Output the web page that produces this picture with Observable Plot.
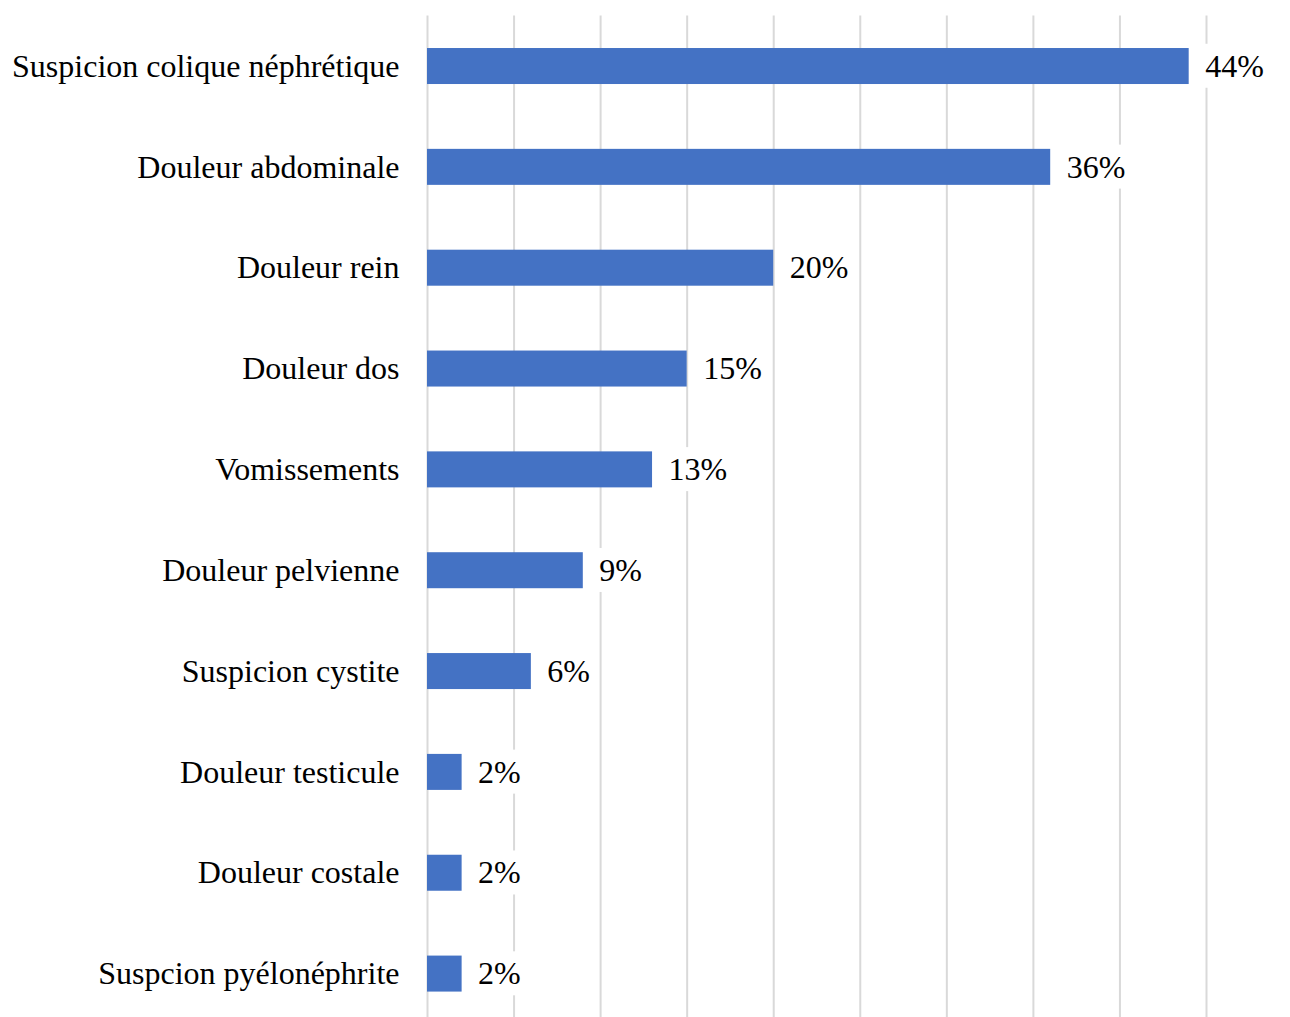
<!DOCTYPE html>
<html>
<head>
<meta charset="utf-8">
<script src="https://cdn.jsdelivr.net/npm/d3@7"></script>
<script src="https://cdn.jsdelivr.net/npm/@observablehq/plot@0.6"></script>
<style>
html, body { margin: 0; padding: 0; background: #fff; overflow: hidden; }
</style>
</head>
<body>
<div id="chart"></div>
<script>
const categories = [
  "Suspicion colique néphrétique",
  "Douleur abdominale",
  "Douleur rein",
  "Douleur dos",
  "Vomissements",
  "Douleur pelvienne",
  "Suspicion cystite",
  "Douleur testicule",
  "Douleur costale",
  "Suspcion pyélonéphrite"
];
const values = [44, 36, 20, 15, 13, 9, 6, 2, 2, 2];
const valueLabels = ["44%", "36%", "20%", "15%", "13%", "9%", "6%", "2%", "2%", "2%"];
const gridTicks = [0, 5, 10, 15, 20, 25, 30, 35, 40, 45];

const data = categories.map((c, i) => ({ category: c, value: values[i], label: valueLabels[i] }));

const fontFamily = '"Liberation Serif", "Times New Roman", Times, serif';

const chart = Plot.plot({
  width: 1290,
  height: 1024,
  marginLeft: 427,
  marginRight: 84,
  marginTop: 15.6,
  marginBottom: 0,
  style: { fontFamily, fontSize: "32px", color: "#000", background: "#fff" },
  x: { domain: [0, 45], axis: null },
  y: { type: "band", domain: categories, paddingInner: 0.643, paddingOuter: 0.3215, round: false, axis: null },
  marks: [
    Plot.ruleX(gridTicks, { stroke: "#d9d9d9", strokeWidth: 2, strokeOpacity: 1 }),
    Plot.barX(data, { x: "value", y: "category", fill: "#4472c4" }),
    Plot.text(data, {
      x: "value", y: "category", text: "label",
      textAnchor: "start", dx: 16, fill: "#000", fontSize: 32, className: "vlabel"
    }),
    Plot.axisY({ tickSize: 0, tickPadding: 28, fontSize: 32, fill: "#000", label: null })
  ]
});

document.getElementById("chart").appendChild(chart);

// white background boxes behind the value labels (as in the original, they interrupt gridlines)
chart.querySelectorAll(".vlabel text").forEach(t => {
  const b = t.getBBox();
  const r = document.createElementNS("http://www.w3.org/2000/svg", "rect");
  r.setAttribute("x", b.x - 7);
  r.setAttribute("y", b.y - 4);
  r.setAttribute("width", b.width + 14);
  r.setAttribute("height", b.height + 8);
  r.setAttribute("fill", "#fff");
  const tr = t.getAttribute("transform");
  if (tr) r.setAttribute("transform", tr);
  t.parentNode.insertBefore(r, t);
});
</script>
</body>
</html>
